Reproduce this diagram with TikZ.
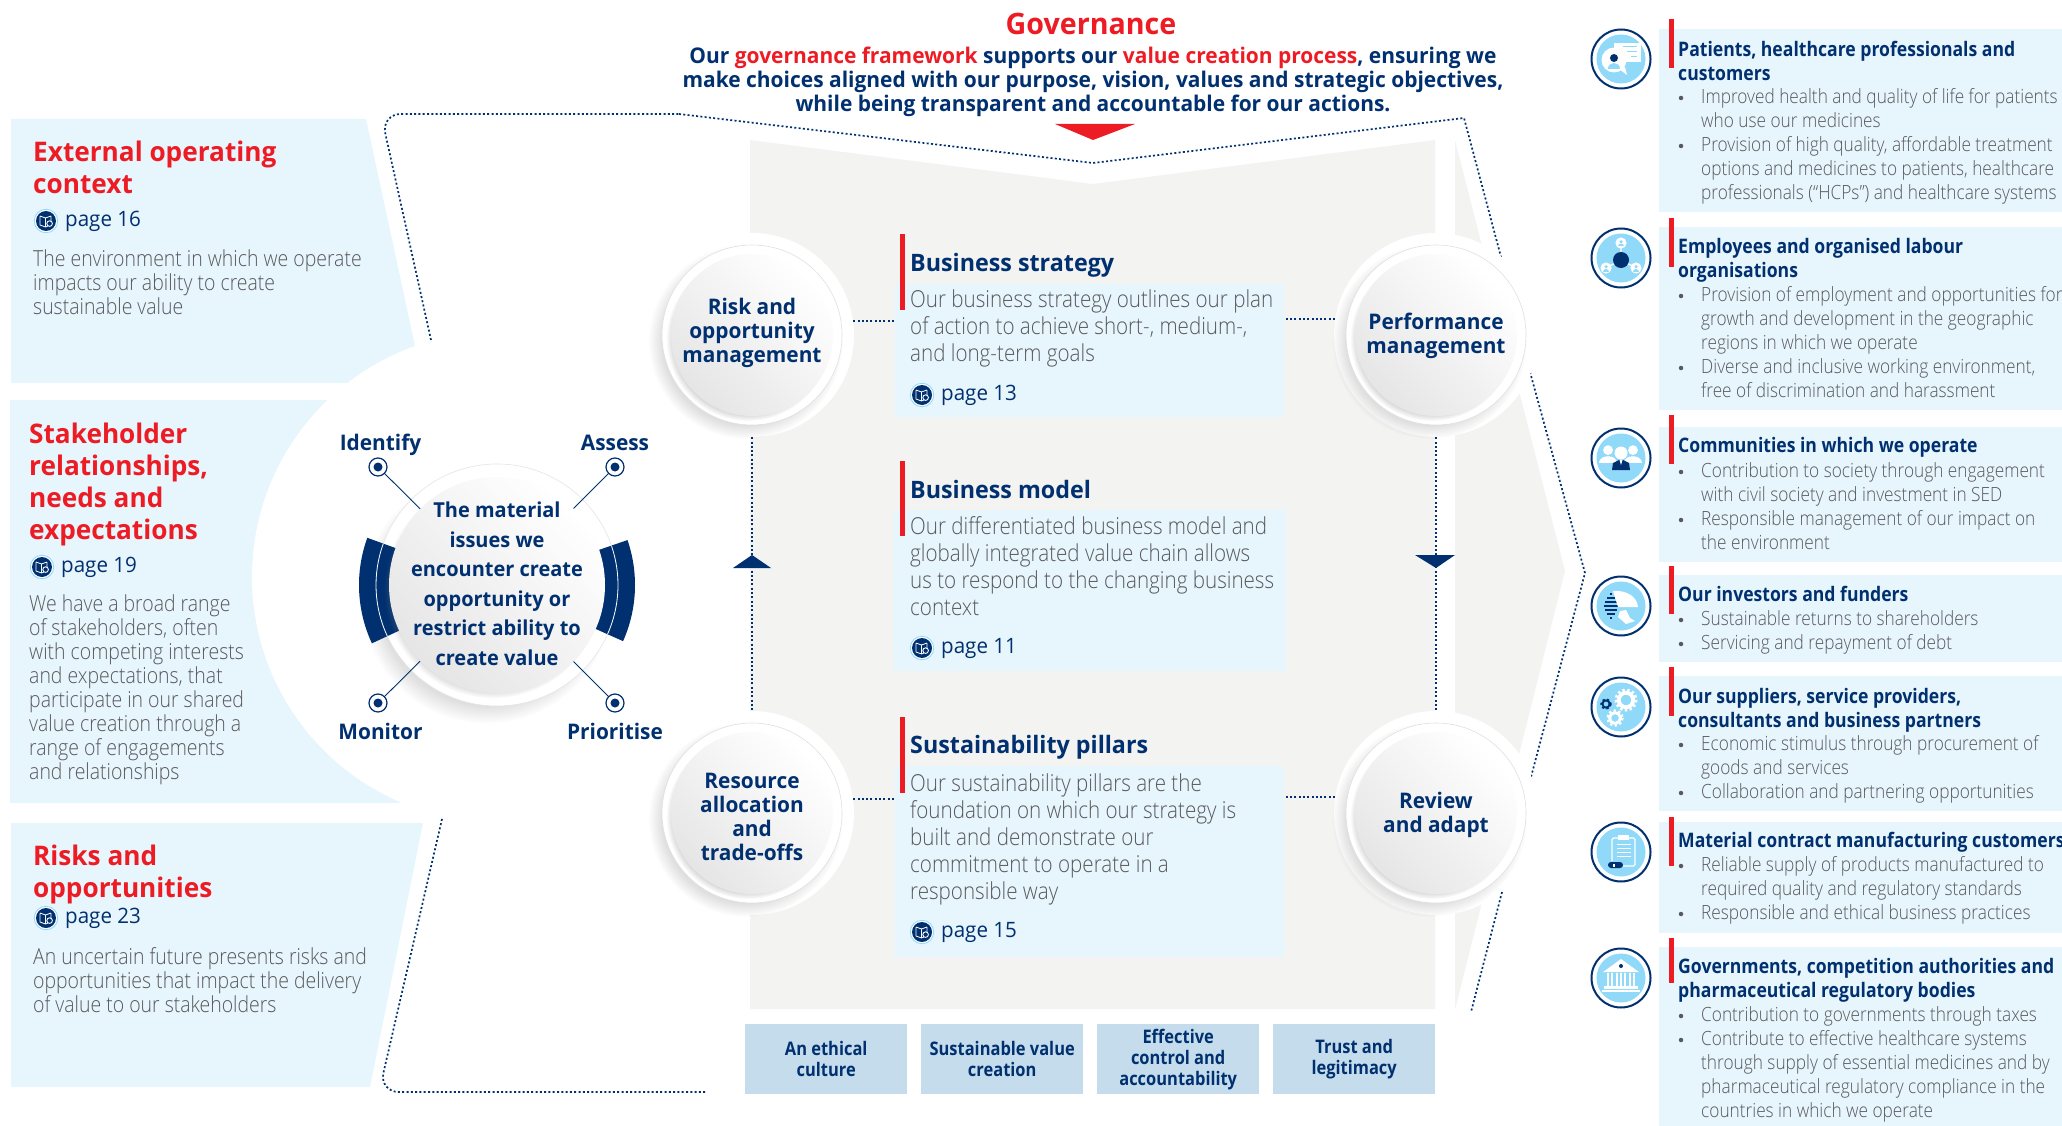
\documentclass[tikz,border=0pt]{standalone}
\usepackage{fontspec}
\setmainfont{Open Sans}[FakeStretch=0.97]
\newfontfamily\lightfont{Open Sans Light}[FakeStretch=0.88]
\newfontfamily\condfont{Open Sans}[FakeStretch=0.88]
\usepackage{tikz}
\usetikzlibrary{shadows,shapes.geometric}
\definecolor{navy}{HTML}{00306F}
\definecolor{redmark}{HTML}{ED1C24}
\definecolor{bodygray}{HTML}{58595B}
\definecolor{paleblue}{HTML}{E7F5FC}
\definecolor{pillarblue}{HTML}{C4DCEB}
\definecolor{greyback}{HTML}{F3F3F2}
\definecolor{skyface}{HTML}{90D9F8}
\tikzset{
  dotline/.style={draw=navy, line width=1.7pt, dash pattern=on 2pt off 2.3pt}
}
\tikzset{
  bluebox/.style={fill=paleblue, anchor=north west, inner sep=0pt}
}
\tikzset{
  redbar/.style={fill=redmark, anchor=north west, inner sep=0pt, minimum width=5}
}
\tikzset{
  pillarbox/.style={fill=pillarblue, anchor=north west, inner sep=0pt, minimum width=162, minimum height=70, text=navy, align=center, font=\condfont\bfseries\fontsize{18.7}{21}\selectfont}
}
\tikzset{
  bighead/.style={anchor=north west, inner sep=0pt, align=left, text=redmark, font=\bfseries\fontsize{27}{32}\selectfont}
}
\tikzset{
  sidetext/.style={anchor=north west, inner sep=0pt, align=left, text=bodygray, font=\lightfont\fontsize{22.1}{24}\selectfont}
}
\tikzset{
  midhead/.style={anchor=west, inner sep=0pt, text=navy, font=\bfseries\fontsize{24}{27}\selectfont}
}
\tikzset{
  midtext/.style={anchor=north west, inner sep=0pt, align=left, text=bodygray, font=\lightfont\fontsize{23.4}{27}\selectfont}
}
\tikzset{
  stakehead/.style={anchor=north west, inner sep=0pt, align=left, text=navy, font=\condfont\bfseries\fontsize{20}{24}\selectfont}
}
\tikzset{
  itemtext/.style={anchor=north west, inner sep=0pt, align=left, text=bodygray, font=\lightfont\fontsize{19.6}{24}\selectfont}
}
\tikzset{
  itemdot/.style={circle, fill=bodygray, inner sep=0pt, minimum size=4.5}
}
\tikzset{
  pagelabel/.style={anchor=west, inner sep=0pt, text=navy, font=\fontsize{21.2}{24}\selectfont}
}
\tikzset{
  pagering/.style={circle, draw=skyface, line width=.8pt, fill=white, inner sep=0pt, minimum size=23.5}
}
\tikzset{
  halodisc/.style={circle, fill=white, inner sep=0pt, minimum size=204}
}
\tikzset{
  ringdisc/.style={circle, draw=black!12, line width=.6pt, fill=white, inner sep=0pt, minimum size=180, circular drop shadow={shadow xshift=-6pt, shadow yshift=-6pt, shadow scale=1.08, opacity=.25}}
}
\tikzset{
  facedisc/.style={circle, inner sep=0pt, minimum size=162, top color=white, bottom color=black!10, shading angle=-45, circular drop shadow={shadow xshift=-4pt, shadow yshift=-4pt, shadow scale=1.01, opacity=.55}}
}
\tikzset{
  disclabel/.style={inner sep=0pt, text=navy, align=center, font=\bfseries\fontsize{21.5}{24}\selectfont}
}
\tikzset{
  targetdot/.style={circle, draw=navy, line width=1.2pt, fill=white, inner sep=0pt, minimum size=18}
}
\tikzset{
  targetname/.style={text=navy, inner sep=0pt, text height=16pt, text depth=4.5pt, font=\bfseries\fontsize{21.5}{24}\selectfont}
}
\tikzset{
  iconring/.style={circle, draw=navy, line width=2pt, fill=white, inner sep=0pt, minimum size=59}
}
\newcommand{\pagetag}[4]{%
  \node[pagering] (#1mark) at (#2,#3) {};
  \fill[navy] (#1mark) circle (10);
  \draw[white, line width=.8pt] (#2-6,#3-5) -- (#2-.5,#3-3) -- (#2+5,#3-5) (#2-6,#3-5) -- (#2-6,#3+4) -- (#2-.5,#3+6) -- (#2+2,#3+5) (#2-.5,#3-3) -- (#2-.5,#3+6) (#2+5,#3-5) -- (#2+5,#3);
  \draw[white, line width=.9pt, fill=navy] (#2+3.6,#3+2.6) circle (2.8);
  \node[pagelabel] (#1) at (#2+19,#3) {#4};
}
\newcommand{\stakeitem}[3]{%
  \node[itemdot] (#1dot) at (1681,#2) {};
  \node[itemtext] (#1) at (1701,#2-9.5) {#3};
}
\newcommand{\iconbase}[3]{%
  \node[iconring] (#1) at (#2,#3) {};
  \fill[skyface] (#1) circle (24.5);
}
\newcommand{\personmark}[4]{%
  \fill[#4] (#1,#2-3.5*#3) circle (3.5*#3);
  \fill[#4] (#1-6.2*#3,#2+6*#3) .. controls (#1-6.2*#3,#2-.5*#3) and (#1+6.2*#3,#2-.5*#3) .. (#1+6.2*#3,#2+6*#3) -- cycle;
}
\newcommand{\gearmark}[4]{%
  \draw[#4, line width=#3*.38pt] (#1,#2) circle (#3*.72);
  \draw[#4, line width=#3*.3pt, dash pattern=on 2.4pt off 2.4pt] (#1,#2) circle (#3);
}
\begin{document}
\begin{tikzpicture}[y=-1pt, x=1pt]
      \useasboundingbox (0,0) rectangle (2062,1126);
      % left panels
      \fill[paleblue] (11,119) -- (366,119) -- (415,346) -- (350,383) -- (11,383) -- cycle;
      \fill[paleblue] (10,400) -- (327,400) -- (400,803) -- (10,803) -- cycle;
      \fill[paleblue] (11,823) -- (423,823) -- (370,1087) -- (11,1087) -- cycle;
      \fill[paleblue] (250,400) rectangle (330,803);
      \fill[white] (497,577) circle (245);
      % grey field and arrow
      \fill[greyback] (750,140) -- (1093,184) -- (1435,140) -- (1435,1009) -- (750,1009) -- cycle;
      \fill[greyback] (1455,140) -- (1565,571) -- (1455,1010) -- cycle;
      \fill[redmark] (1055,124) -- (1135,124) -- (1093,140) -- cycle;
      \draw[dotline, rounded corners=20pt] (431,340) -- (381,114) -- (679,114);
      \draw[dotline] (679,114) -- (1093,163) -- (1464,118) -- (1501,257);
      \draw[dotline] (1530,372) -- (1585,573) -- (1531,777);
      \draw[dotline] (1502,892) -- (1471,1012);
      \draw[dotline, rounded corners=20pt] (442,819) -- (379,1092) -- (705,1092);
      % governance
      \node[text=redmark, font=\bfseries\fontsize{29.5}{32}\selectfont] (govtitle) at (1091,24) {Governance};
      \node[text=navy, align=center, inner sep=0pt, font=\bfseries\fontsize{21.6}{24}\selectfont] (govtext) at (1093,81.5) {Our \textcolor{redmark}{governance framework} supports our \textcolor{redmark}{value creation process}, ensuring we\\make choices aligned with our purpose, vision, values and strategic objectives,\\while being transparent and accountable for our actions.};
      % left texts
      \node[bighead] (exthead) at (33,141) {External operating\\context};
      \pagetag{extpage}{46}{221}{page 16}
      \node[sidetext] (exttext) at (33,250) {The environment in which we operate\\impacts our ability to create\\sustainable value};
      \node[bighead] (stakhead) at (29,423) {Stakeholder\\relationships,\\needs and\\expectations};
      \pagetag{stakpage}{42}{567}{page 19}
      \node[sidetext] (staktext) at (29,595) {We have a broad range\\of stakeholders, often\\with competing interests\\and expectations, that\\participate in our shared\\value creation through a\\range of engagements\\and relationships};
      \node[bighead] (riskhead) at (33,845) {Risks and\\opportunities};
      \pagetag{riskpage}{46}{918}{page 23}
      \node[sidetext] (risktext) at (33,947) {An uncertain future presents risks and\\opportunities that impact the delivery\\of value to our stakeholders};
      % material issues
      \node[circle, draw=black!10, line width=.6pt, fill=white, inner sep=0pt, minimum size=242, circular drop shadow={shadow xshift=-10pt, shadow yshift=-12pt, shadow scale=1.04, opacity=.25}] (matring) at (497,585) {};
      \fill[navy, shift={(497,585)}] (-160:138) arc (-160:-205:138) -- (-205:106) arc (-205:-160:106) -- cycle;
      \fill[navy, shift={(497,585)}] (-19:138) arc (-19:24:138) -- (24:106) arc (24:-19:106) -- cycle;
      \draw[white, line width=.8pt, shift={(497,585)}] (-160:121) arc (-160:-205:121) (-19:121) arc (-19:24:121);
      \node[facedisc, minimum size=216] (material) at (497,585) {};
      \node[disclabel, font=\bfseries\fontsize{20.6}{29.5}\selectfont] (materialtext) at (497,584) {The material\\issues we\\encounter create\\opportunity or\\restrict ability to\\create value};
      \node[targetdot, label={[targetname, label distance=2.5pt, xshift=2.5pt]above:Identify}] (identify) at (378,467) {};
      \node[targetdot, label={[targetname, label distance=2.5pt]above:Assess}] (assess) at (615,467) {};
      \node[targetdot, label={[targetname, label distance=11pt, xshift=2.5pt]below:Monitor}] (monitor) at (378,703) {};
      \node[targetdot, label={[targetname, label distance=11pt]below:Prioritise}] (prioritise) at (615,703) {};
      \fill[navy] (identify) circle (4.5) (assess) circle (4.5) (monitor) circle (4.5) (prioritise) circle (4.5);
      \draw[navy, line width=.9pt] (identify) -- (material);
      \draw[navy, line width=.9pt] (assess) -- (material);
      \draw[navy, line width=.9pt] (monitor) -- (material);
      \draw[navy, line width=.9pt] (prioritise) -- (material);
      % discs
      \node[halodisc] (riskhalo) at (752,335) {};
      \node[halodisc] (perfhalo) at (1436,335) {};
      \node[halodisc] (reshalo) at (752,813) {};
      \node[halodisc] (revhalo) at (1436,813) {};
      \node[ringdisc] (riskring) at (752,335) {};
      \node[ringdisc] (perfring) at (1436,335) {};
      \node[ringdisc] (resring) at (752,813) {};
      \node[ringdisc] (revring) at (1436,813) {};
      \node[facedisc] (riskdisc) at (752,335) {};
      \node[facedisc] (perfdisc) at (1436,335) {};
      \node[facedisc] (resdisc) at (752,813) {};
      \node[facedisc] (revdisc) at (1436,813) {};
      \node[disclabel] (risktext) at (752,332.5) {Risk and\\opportunity\\management};
      \node[disclabel] (perftext) at (1436,335.5) {Performance\\management};
      \node[disclabel] (restext) at (752,817) {Resource\\allocation\\and\\trade-offs};
      \node[disclabel] (revtext) at (1436,815) {Review\\and adapt};
      % middle column
      \node[bluebox, minimum width=389, minimum height=133] (stratbox) at (895,284) {};
      \node[redbar, minimum height=76] (stratbar) at (900,234) {};
      \node[midhead] (strathead) at (910,265) {Business strategy};
      \node[midtext] (strattext) at (910,290) {Our business strategy outlines our plan\\of action to achieve short-, medium-,\\and long-term goals};
      \pagetag{stratpage}{922}{395}{page 13}
      \node[bluebox, minimum width=393, minimum height=161] (modelbox) at (893,510) {};
      \node[redbar, minimum height=75] (modelbar) at (900,461) {};
      \node[midhead] (modelhead) at (910,489) {Business model};
      \node[midtext] (modeltext) at (910,516) {Our differentiated business model and\\globally integrated value chain allows\\us to respond to the changing business\\context};
      \pagetag{modelpage}{922}{648}{page 11}
      \node[bluebox, minimum width=389, minimum height=191] (pillbox) at (895,766) {};
      \node[redbar, minimum height=76] (pillbar) at (900,717) {};
      \node[midhead] (pillhead) at (910,747) {Sustainability pillars};
      \node[midtext] (pilltext) at (910,774) {Our sustainability pillars are the\\foundation on which our strategy is\\built and demonstrate our\\commitment to operate in a\\responsible way};
      \pagetag{pillpage}{922}{932}{page 15}
      \draw[dotline] (riskhalo.8.5) -- (riskhalo.8.5 -| stratbox.west);
      \draw[dotline] (perfhalo.171.5) -- (perfhalo.171.5 -| stratbox.east);
      \draw[dotline] (reshalo.8.5) -- (reshalo.8.5 -| pillbox.west);
      \draw[dotline] (revhalo.171.5) -- (revhalo.171.5 -| pillbox.east);
      \draw[dotline] (riskhalo) -- (reshalo);
      \draw[dotline] (perfhalo) -- (revhalo);
      \fill[navy] (733,568) -- (752,555) -- (771,568) -- cycle;
      \fill[navy] (1415,555) -- (1436,568) -- (1455,555) -- cycle;
      % pillars
      \node[pillarbox] (ethical) at (745,1024) {An ethical\\culture};
      \node[pillarbox] (sustain) at (921,1024) {Sustainable value\\creation};
      \node[pillarbox] (control) at (1097,1024) {Effective\\control and\\accountability};
      \node[pillarbox] (trust) at (1273,1024) {Trust and\\legitimacy};
      % stakeholders
      \node[bluebox, minimum width=403, minimum height=183] (patbox) at (1659,29) {};
      \node[redbar, minimum height=49] (patbar) at (1669,19) {};
      \node[stakehead] (pathead) at (1678,40.5) {Patients, healthcare professionals and\\customers};
      \stakeitem{patone}{98}{Improved health and quality of life for patients\\who use our medicines}
      \stakeitem{pattwo}{146}{Provision of high quality, affordable treatment\\options and medicines to patients, healthcare\\professionals (“HCPs”) and healthcare systems}
      \node[bluebox, minimum width=403, minimum height=183] (empbox) at (1659,227) {};
      \node[redbar, minimum height=49] (empbar) at (1669,218) {};
      \node[stakehead] (emphead) at (1678,238.5) {Employees and organised labour\\organisations};
      \stakeitem{empone}{296}{Provision of employment and opportunities for\\growth and development in the geographic\\regions in which we operate}
      \stakeitem{emptwo}{368}{Diverse and inclusive working environment,\\free of discrimination and harassment}
      \node[bluebox, minimum width=403, minimum height=135] (combox) at (1659,427) {};
      \node[redbar, minimum height=49] (combar) at (1669,415) {};
      \node[stakehead] (comhead) at (1678,437.5) {Communities in which we operate};
      \stakeitem{comone}{472}{Contribution to society through engagement\\with civil society and investment in SED}
      \stakeitem{comtwo}{520}{Responsible management of our impact on\\the environment}
      \node[bluebox, minimum width=403, minimum height=87] (invbox) at (1659,575) {};
      \node[redbar, minimum height=48] (invbar) at (1669,566) {};
      \node[stakehead] (invhead) at (1678,586) {Our investors and funders};
      \stakeitem{invone}{620}{Sustainable returns to shareholders}
      \stakeitem{invtwo}{644}{Servicing and repayment of debt}
      \node[bluebox, minimum width=403, minimum height=135] (supbox) at (1659,676) {};
      \node[redbar, minimum height=49] (supbar) at (1669,667) {};
      \node[stakehead] (suphead) at (1678,688) {Our suppliers, service providers,\\consultants and business partners};
      \stakeitem{supone}{745}{Economic stimulus through procurement of\\goods and services}
      \stakeitem{suptwo}{793}{Collaboration and partnering opportunities}
      \node[bluebox, minimum width=403, minimum height=111] (manbox) at (1659,822) {};
      \node[redbar, minimum height=49] (manbar) at (1669,817) {};
      \node[stakehead] (manhead) at (1678,832) {Material contract manufacturing customers};
      \stakeitem{manone}{866}{Reliable supply of products manufactured to\\required quality and regulatory standards}
      \stakeitem{mantwo}{914}{Responsible and ethical business practices}
      \node[bluebox, minimum width=403, minimum height=179] (govbox) at (1659,947) {};
      \node[redbar, minimum height=45] (govbar) at (1669,938) {};
      \node[stakehead] (govhead) at (1678,958) {Governments, competition authorities and\\pharmaceutical regulatory bodies};
      \stakeitem{govone}{1016}{Contribution to governments through taxes}
      \stakeitem{govtwo}{1040}{Contribute to effective healthcare systems\\through supply of essential medicines and by\\pharmaceutical regulatory compliance in the\\countries in which we operate}
      % icons
      \iconbase{iconpat}{1621}{59}
      \begin{scope}[shift={(iconpat)}]
        \fill[white] (-7,-16) rectangle (20,3);
        \draw[skyface, line width=1pt] (2,-12) -- (16,-12) (6,-7) -- (16,-7) (10,-2) -- (16,-2);
        \fill[white] (-7,1) circle (12.5);
        \fill[white] (-2,10) -- (6,16) -- (4,8) -- cycle;
        \fill[navy] (-7,-1) circle (4);
        \fill[skyface] (-13,10) .. controls (-13,2) and (-1,2) .. (-1,10) -- cycle;
      \end{scope}
      \iconbase{iconemp}{1621}{258}
      \begin{scope}[shift={(iconemp)}]
        \draw[white, line width=1.4pt] (0,-15) -- (0,2) -- (-15,10) (0,2) -- (15,10);
        \fill[navy] (0,2) circle (8);
        \fill[white] (0,-15) circle (5.6) (-15,10) circle (5.6) (15,10) circle (5.6);
        \personmark{0}{-14.5}{.5}{skyface}
        \personmark{-15}{10.5}{.5}{skyface}
        \personmark{15}{10.5}{.5}{skyface}
      \end{scope}
      \iconbase{iconcom}{1621}{458}
      \begin{scope}[shift={(iconcom)}]
        \personmark{-13}{-3}{1.4}{white}
        \personmark{12}{-3}{1.4}{white}
        \fill[white] (0,-5) circle (6.5);
        \fill[navy] (-9,12) -- (-8,5) -- (-2,2) -- (2,2) -- (8,5) -- (9,12) -- cycle;
        \fill[white] (-1.5,2) -- (1.5,2) -- (0,7) -- cycle;
      \end{scope}
      \iconbase{iconinv}{1621}{606}
      \begin{scope}[shift={(iconinv)}]
        \draw[navy, line width=1.1pt] (-11,-12) -- (-9,-12) (-14,-8) -- (-6,-8) (-16,-4) -- (-4,-4) (-17,0) -- (-3,0) (-16,4) -- (-4,4) (-14,8) -- (-6,8) (-11,12) -- (-9,12);
        \fill[white] (-8,-15) .. controls (5,-16) and (16,-10) .. (17,1) -- (-3,1) -- cycle;
        \fill[white] (-1,5) -- (5,4) -- (9,12) -- (14,15) -- (5,18) -- (-3,11) -- cycle;
      \end{scope}
      \iconbase{iconsup}{1621}{707}
      \begin{scope}[shift={(iconsup)}]
        \gearmark{5}{-7}{10}{white}
        \gearmark{-6}{11}{7.5}{white}
        \gearmark{-15}{-3}{5}{navy}
      \end{scope}
      \iconbase{iconman}{1621}{852}
      \begin{scope}[shift={(iconman)}]
        \draw[white, line width=1.1pt, rounded corners=1.5pt] (-9,9) -- (-9,-14) -- (14,-14) -- (14,14) -- (2,14);
        \fill[white] (-3,-17) rectangle (8,-12);
        \draw[white, line width=.9pt] (-4,-8) -- (10,-8) (-4,-4) -- (10,-4) (-4,0) -- (10,0) (-4,4) -- (10,4);
        \fill[navy, rounded corners=3pt] (-13,10) rectangle (2,16);
        \fill[white] (-8,11.5) rectangle (-6,14.5);
      \end{scope}
      \iconbase{icongov}{1621}{978}
      \begin{scope}[shift={(icongov)}]
        \fill[white] (-18,-6) -- (0,-19) -- (18,-6) -- cycle;
        \fill[navy] (0,-12) circle (2);
        \draw[white, line width=1.3pt] (-13,-5) -- (-13,8) (-9,-5) -- (-9,8) (-4,-5) -- (-4,8) (0,-5) -- (0,8) (4,-5) -- (4,8) (9,-5) -- (9,8) (13,-5) -- (13,8);
        \fill[white] (-17,8) rectangle (17,11);
        \fill[white] (-19,12) rectangle (19,13.5);
      \end{scope}
    \end{tikzpicture}
\end{document}
